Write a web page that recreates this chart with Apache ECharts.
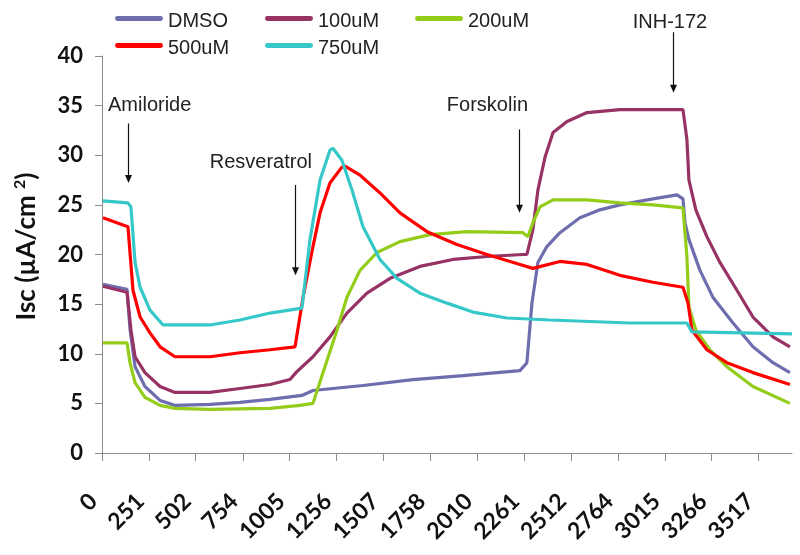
<!DOCTYPE html>
<html>
<head>
<meta charset="utf-8">
<script src="https://cdn.jsdelivr.net/npm/echarts@6/dist/echarts.min.js"></script>
<style>html,body{margin:0;padding:0;background:#fff}#c{width:800px;height:555px}</style>
</head>
<body>
<div id="c"></div>
<script>
// ---- data (time, Isc in µA/cm²) ----
const seriesNames = ['DMSO', '100uM', '200uM', '500uM', '750uM'];
const tickLabels = ['0','251','502','754','1005','1256','1507','1758','2010','2261','2512','2764','3015','3266','3517'];

const dmso = [[5,17.0],[134,16.5],[150,12.5],[177,8.7],[230,6.7],[311,5.3],[391,4.8],[578,4.9],[739,5.1],[900,5.4],[1071,5.8],[1130,6.3],[1398,6.8],[1666,7.4],[1934,7.8],[2239,8.3],[2276,9.1],[2303,15.1],[2335,19.2],[2383,20.8],[2453,22.2],[2560,23.7],[2667,24.5],[2774,25.0],[2951,25.6],[3080,26.0],[3112,25.6],[3123,23.2],[3144,21.5],[3203,18.4],[3272,15.7],[3380,13.1],[3487,10.7],[3594,9.1],[3685,8.1]];
const um100 = [[5,16.8],[134,16.2],[155,12.4],[177,9.7],[230,8.1],[311,6.7],[391,6.1],[578,6.1],[739,6.5],[900,6.9],[1007,7.4],[1044,8.2],[1130,9.7],[1221,11.7],[1312,14.1],[1419,16.1],[1543,17.6],[1703,18.8],[1880,19.5],[2062,19.8],[2255,20.0],[2276,20.0],[2308,22.5],[2335,26.5],[2373,29.8],[2416,32.3],[2491,33.4],[2598,34.3],[2774,34.6],[3112,34.6],[3133,31.6],[3144,27.5],[3181,24.5],[3240,21.8],[3310,19.2],[3401,16.4],[3487,13.7],[3594,11.7],[3685,10.7]];
const um200 = [[5,11.1],[134,11.1],[150,9.1],[177,7.1],[230,5.6],[311,4.8],[391,4.5],[578,4.4],[900,4.5],[1060,4.8],[1130,5.0],[1184,8.1],[1259,12.4],[1312,15.7],[1382,18.4],[1473,20.2],[1596,21.3],[1757,22.0],[1955,22.3],[2255,22.2],[2282,21.8],[2308,23.2],[2346,24.8],[2416,25.5],[2598,25.5],[2774,25.2],[2951,25.0],[3112,24.7],[3133,19.8],[3144,14.7],[3181,12.4],[3256,10.4],[3347,8.7],[3487,6.7],[3685,5.0]];
const um500 = [[5,23.7],[139,22.8],[166,16.4],[204,13.7],[257,12.1],[311,10.7],[391,9.7],[578,9.7],[739,10.1],[900,10.4],[1034,10.7],[1077,15.7],[1130,20.8],[1168,24.2],[1221,27.2],[1285,28.8],[1302,28.9],[1382,28.0],[1489,26.2],[1596,24.2],[1741,22.3],[1901,21.0],[2062,20.0],[2239,19.0],[2308,18.6],[2453,19.3],[2598,19.0],[2774,17.9],[2951,17.2],[3112,16.7],[3139,15.1],[3160,12.4],[3240,10.4],[3347,9.1],[3487,8.1],[3685,6.9]];
const um750 = [[5,25.4],[139,25.2],[155,24.8],[177,19.2],[204,16.7],[257,14.4],[327,12.9],[578,12.9],[739,13.4],[900,14.1],[1071,14.6],[1114,21.5],[1168,27.5],[1221,30.5],[1237,30.7],[1285,29.5],[1339,26.5],[1398,22.8],[1489,19.5],[1580,17.6],[1703,16.1],[1848,15.1],[1987,14.2],[2169,13.6],[2399,13.4],[2828,13.1],[3133,13.1],[3160,12.2],[3696,12.0]];

const colors = ['#6E6EAE', '#963264', '#94CC1A', '#FF0000', '#36C8C8'];
const seriesData = [dmso, um100, um200, um500, um750];

const chart = echarts.init(document.getElementById('c'));
const tickPos = tickLabels.map(Number);

chart.setOption({
  animation: false,
  backgroundColor: '#fff',
  grid: { left: 102, right: 8, top: 56, bottom: 102 },
  legend: {
    data: seriesNames,
    left: 110, top: 6, width: 445,
    itemWidth: 48, itemHeight: 14, itemGap: 7,
    icon: 'path://M2,2 H46 A2.5,2.5 0 0 1 46,7 H2 A2.5,2.5 0 0 1 2,2 Z M0,13.9 H0.1 V14 H0 Z M0,0 H0.1 V0.1 H0 Z M47.9,0 H48 V0.1 H47.9 Z',
    textStyle: { fontFamily: 'Liberation Sans', fontSize: 20, color: '#222', width: 90, lineHeight: 19 }
  },
  xAxis: {
    type: 'value', min: 0, max: 3696,
    axisLine: { lineStyle: { color: '#8c8c8c', width: 1 } },
    splitLine: { show: false },
    axisTick: { show: true, length: 8, inside: false, customValues: tickPos, lineStyle: { color: '#8c8c8c' } },
    axisLabel: {
      customValues: tickPos, rotate: 45, margin: 36, padding: [0, 12, 0, 0],
      fontFamily: 'Lato', fontWeight: 'bold', fontSize: 23, color: '#111',
      formatter: v => tickLabels[tickPos.indexOf(v)] ?? ''
    }
  },
  yAxis: {
    type: 'value', min: 0, max: 40, interval: 5,
    name: '{a|Isc (µA/cm }{s|2}{a|)}',
    nameLocation: 'middle', nameGap: 60, nameRotate: 90,
    nameTextStyle: {
      padding: [0, 0, 0, 16],
      rich: {
        a: { fontFamily: 'Lato', fontWeight: 'bold', fontSize: 26, color: '#111' },
        s: { fontFamily: 'Lato', fontWeight: 'bold', fontSize: 16, color: '#111', padding: [0, 0, 14, 0] }
      }
    },
    axisLine: { show: true, lineStyle: { color: '#8c8c8c', width: 1 } },
    axisTick: { show: true, length: 7, lineStyle: { color: '#8c8c8c' } },
    splitLine: { show: false },
    axisLabel: { margin: 19, fontFamily: 'Lato', fontWeight: 'bold', fontSize: 22, color: '#111' }
  },
  series: seriesNames.map((n, i) => ({
    name: n, type: 'line', data: seriesData[i],
    showSymbol: false, symbol: 'none',
    lineStyle: { width: 3.2, color: colors[i] },
    itemStyle: { color: colors[i] },
    z: 2 + i
  })),
  graphic: []
});

// annotations (text + arrow), arrows placed through the axes
const annoText = ['Amiloride', 'Resveratrol', 'Forskolin', 'INH-172'];
const annoX = [137, 1034, 2233, 3058];
const annoTop = [33.2, 27.0, 32.6, 42.4];
const annoTip = [27.2, 17.9, 24.2, 36.3];
const textPos = [[108, 105, 'left'], [312, 162, 'right'], [528, 105, 'right'], [670, 22, 'center']];
const g = [];
annoText.forEach((t, i) => {
  const p1 = chart.convertToPixel({ gridIndex: 0 }, [annoX[i], annoTop[i]]);
  const p2 = chart.convertToPixel({ gridIndex: 0 }, [annoX[i], annoTip[i]]);
  const x = Math.round(p1[0]) + 0.5;
  g.push({ type: 'line', shape: { x1: x, y1: p1[1], x2: x, y2: p2[1] - 6 }, style: { stroke: '#111', lineWidth: 1.2 }, z: 50 });
  g.push({ type: 'polygon', shape: { points: [[x - 3.5, p2[1] - 8], [x + 3.5, p2[1] - 8], [x, p2[1]]] }, style: { fill: '#111' }, z: 50 });
  g.push({ type: 'text', x: textPos[i][0], y: textPos[i][1], style: { text: t, fontFamily: 'Liberation Sans', fontSize: 20, fill: '#222', align: textPos[i][2], verticalAlign: 'middle' }, z: 50 });
});
chart.setOption({ graphic: g });
</script>
</body>
</html>
